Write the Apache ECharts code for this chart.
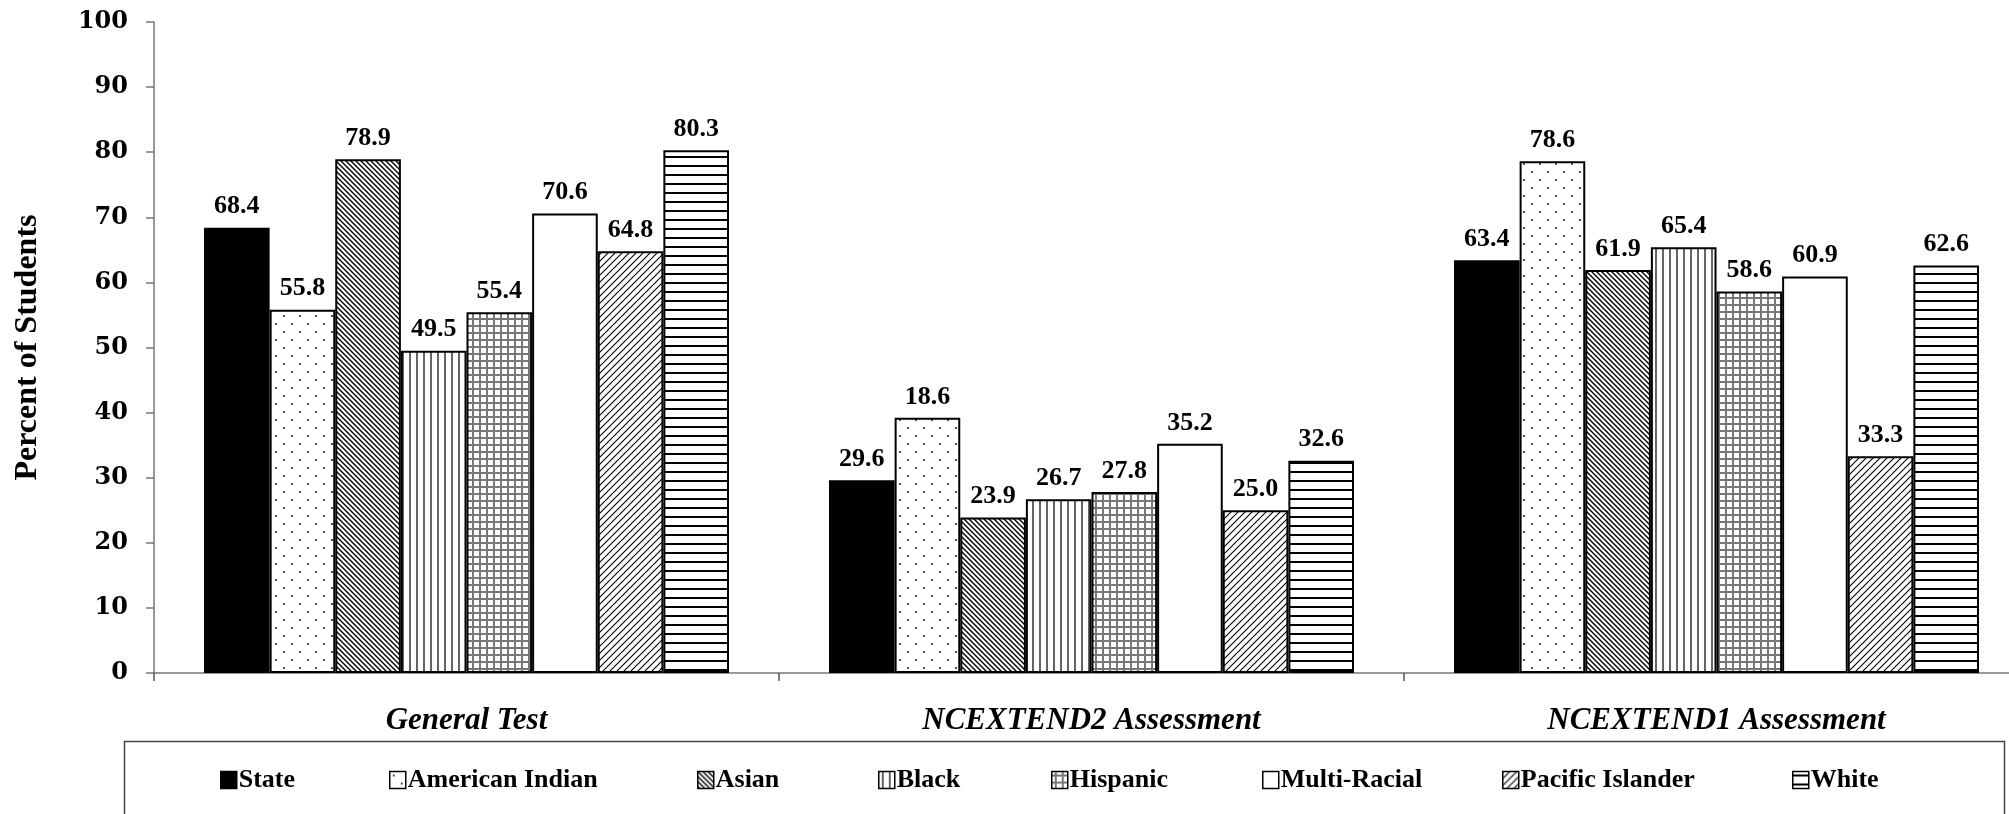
<!DOCTYPE html>
<html>
<head>
<meta charset="utf-8">
<script src="https://cdn.jsdelivr.net/npm/echarts@6/dist/echarts.min.js"></script>
<style>
  html, body { margin: 0; padding: 0; background: #fff; overflow: hidden; }
  /* the source is cropped on the right: draw a little wider than the window */
  #chart { width: 2029px; height: 814px; }
</style>
</head>
<body>
<div id="chart"></div>
<script>
  // categories and groups
  var categories = ['General Test', 'NCEXTEND2 Assessment', 'NCEXTEND1 Assessment']
  var groups = ['State', 'American Indian', 'Asian', 'Black', 'Hispanic', 'Multi-Racial', 'Pacific Islander', 'White']

  // bar heights per group (General, NCEXTEND2, NCEXTEND1)
  var stateVals = [68.4, 29.6, 63.4]
  var amIndVals = [55.8, 39.2, 78.6]
  var asianVals = [78.9, 23.9, 61.9]
  var blackVals = [49.5, 26.7, 65.4]
  var hispVals = [55.4, 27.8, 58.6]
  var multiVals = [70.6, 35.2, 60.9]
  var pacVals = [64.8, 25.0, 33.3]
  var whiteVals = [80.3, 32.6, 62.6]

  // printed labels (the source prints 18.6 over the taller American Indian bar)
  var stateLbl = ['68.4', '29.6', '63.4']
  var amIndLbl = ['55.8', '18.6', '78.6']
  var asianLbl = ['78.9', '23.9', '61.9']
  var blackLbl = ['49.5', '26.7', '65.4']
  var hispLbl = ['55.4', '27.8', '58.6']
  var multiLbl = ['70.6', '35.2', '60.9']
  var pacLbl = ['64.8', '25.0', '33.3']
  var whiteLbl = ['80.3', '32.6', '62.6']

  var yTicks = [0, 10, 20, 30, 40, 50, 60, 70, 80, 90, 100]

  var allVals = [stateVals, amIndVals, asianVals, blackVals, hispVals, multiVals, pacVals, whiteVals]
  var allLbl = [stateLbl, amIndLbl, asianLbl, blackLbl, hispLbl, multiLbl, pacLbl, whiteLbl]

  // pattern tiles
  function tile(w, h, draw) {
    var c = document.createElement('canvas')
    c.width = w
    c.height = h
    var ctx = c.getContext('2d')
    ctx.fillStyle = '#fff'
    ctx.fillRect(0, 0, w, h)
    draw(ctx)
    return { image: c, repeat: 'repeat' }
  }
  var fills = [
    '#000',
    tile(16, 16, function (ctx) {
      ctx.fillStyle = '#555'
      ctx.fillRect(3, 3, 2, 2)
      ctx.fillRect(11, 11, 2, 2)
    }),
    tile(5, 5, function (ctx) {
      ctx.strokeStyle = '#000'
      ctx.lineWidth = 1.4
      ctx.beginPath()
      ctx.moveTo(-1, -1); ctx.lineTo(6, 6)
      ctx.moveTo(-4, 1); ctx.lineTo(1, 6)
      ctx.moveTo(1, -4); ctx.lineTo(6, 1)
      ctx.stroke()
    }),
    tile(7, 7, function (ctx) {
      ctx.fillStyle = '#666'
      ctx.fillRect(3, 0, 2, 7)
    }),
    tile(7, 7, function (ctx) {
      ctx.fillStyle = '#777'
      ctx.fillRect(3, 0, 2, 7)
      ctx.fillRect(0, 3, 7, 2)
    }),
    '#fff',
    tile(7, 7, function (ctx) {
      ctx.strokeStyle = '#000'
      ctx.lineWidth = 1.1
      ctx.beginPath()
      ctx.moveTo(-1, 8); ctx.lineTo(8, -1)
      ctx.moveTo(-4, 4); ctx.lineTo(4, -4)
      ctx.moveTo(3, 11); ctx.lineTo(11, 3)
      ctx.stroke()
    }),
    tile(9, 9, function (ctx) {
      ctx.fillStyle = '#000'
      ctx.fillRect(0, 3, 9, 2)
    })
  ]

  var serif = '"Liberation Serif", "Times New Roman", serif'

  var series = groups.map(function (g, i) {
    return {
      name: g,
      type: 'bar',
      barGap: '0%',
      barCategoryGap: '16%',
      data: allVals[i],
      itemStyle: { color: fills[i], borderColor: '#000', borderWidth: 2 },
      label: {
        show: true,
        position: 'top',
        distance: 8,
        fontFamily: serif,
        fontWeight: 'bold',
        fontSize: 26,
        color: '#000',
        formatter: function (p) { return allLbl[i][p.dataIndex] }
      }
    }
  })

  // one legend per entry so each sits where the source places it
  var legendLeft = [215, 384, 692, 873, 1046, 1257, 1497, 1787]
  var legends = groups.map(function (g, i) {
    return {
      data: [g],
      left: legendLeft[i],
      top: 762,
      icon: 'rect',
      itemWidth: 16,
      itemHeight: 17,
      itemGap: 0,
      selectedMode: false,
      itemStyle: { borderColor: '#000', borderWidth: 1.5 },
      textStyle: { fontFamily: serif, fontWeight: 'bold', fontSize: 26, color: '#000', padding: [0, 0, 0, -3] }
    }
  })

  var myChart = echarts.init(document.getElementById('chart'))
  myChart.setOption({
    animation: false,
    backgroundColor: '#fff',
    grid: { left: 154, right: 0, top: 22, bottom: 141 },
    legend: legends,
    graphic: [{
      type: 'rect',
      shape: { x: 124.5, y: 741.5, width: 1880, height: 90 },
      style: { fill: 'none', stroke: '#444', lineWidth: 1.5 },
      silent: true
    }],
    xAxis: {
      type: 'category',
      data: categories,
      axisLine: { lineStyle: { color: '#777', width: 1.5 } },
      axisTick: { show: true, length: 8, lineStyle: { color: '#555', width: 1.5 } },
      axisLabel: {
        margin: 32,
        fontFamily: serif,
        fontWeight: 'bold',
        fontStyle: 'italic',
        fontSize: 31,
        color: '#000'
      }
    },
    yAxis: {
      type: 'value',
      min: yTicks[0],
      max: yTicks[yTicks.length - 1],
      interval: 10,
      name: 'Percent of Students',
      nameLocation: 'middle',
      nameGap: 110,
      nameRotate: 90,
      nameTextStyle: { fontFamily: serif, fontWeight: 'bold', fontSize: 32, color: '#000' },
      splitLine: { show: false },
      axisLine: { show: true, lineStyle: { color: '#777', width: 1.5 } },
      axisTick: { show: true, length: 8, lineStyle: { color: '#777', width: 1.5 } },
      axisLabel: {
        margin: 26,
        fontFamily: '"DejaVu Serif", serif',
        fontWeight: 'bold',
        fontSize: 24,
        color: '#000'
      }
    },
    series: series
  })
</script>
</body>
</html>
